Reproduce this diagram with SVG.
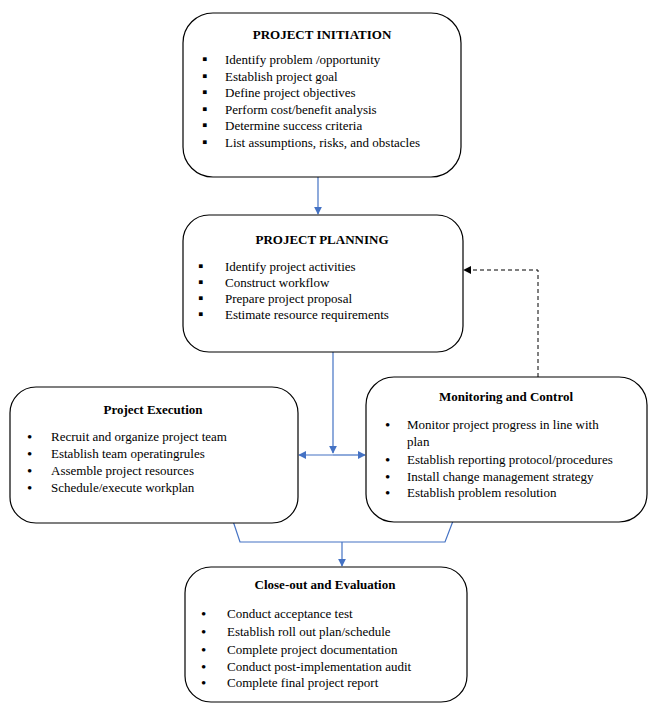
<svg xmlns="http://www.w3.org/2000/svg" width="657" height="712" viewBox="0 0 657 712">
<style>
.box{fill:#fff;stroke:#000;stroke-width:1.2}
.t{font-family:"Liberation Serif","Times New Roman",serif;font-size:13px;fill:#000}
.h{font-weight:bold;text-anchor:middle}
.b{font-family:"Liberation Serif","Times New Roman",serif;font-size:15px;fill:#000}
.c{fill:none;stroke:#4472c4;stroke-width:1.2}
.d{fill:none;stroke:#000;stroke-width:1;stroke-dasharray:4 3}
</style>
<defs>
<marker id="ab" viewBox="0 0 10 10" refX="9" refY="5" markerWidth="8" markerHeight="8" markerUnits="userSpaceOnUse" orient="auto"><path d="M0,0L10,5L0,10z" fill="#4472c4"/></marker>
<marker id="ak" viewBox="0 0 10 10" refX="9" refY="5" markerWidth="8" markerHeight="8" markerUnits="userSpaceOnUse" orient="auto"><path d="M0,0L10,5L0,10z" fill="#000"/></marker>
</defs>
<rect width="657" height="712" fill="#fff"/>
<g id="connectors">
<line class="c" x1="318" y1="177" x2="318" y2="214" marker-end="url(#ab)"/>
<line class="c" x1="333" y1="352" x2="333" y2="453" marker-end="url(#ab)"/>
<line class="c" x1="333" y1="455" x2="299" y2="455" marker-end="url(#ab)"/>
<line class="c" x1="333" y1="455" x2="365" y2="455" marker-end="url(#ab)"/>
<polyline class="c" points="233,521 240,542 445,542 453,521"/>
<line class="c" x1="342" y1="542" x2="342" y2="566" marker-end="url(#ab)"/>
<polyline class="d" points="538,377 538,270 464,270" marker-end="url(#ak)"/>
</g>
<g id="initiation">
<rect class="box" x="183" y="13" width="278" height="164" rx="30"/>
<text class="t h" x="322" y="39">PROJECT INITIATION</text>
<g class="t">
<text class="b" x="202" y="64">▪</text><text x="225" y="64">Identify problem /opportunity</text>
<text class="b" x="202" y="80.5">▪</text><text x="225" y="80.5">Establish project goal</text>
<text class="b" x="202" y="97">▪</text><text x="225" y="97">Define project objectives</text>
<text class="b" x="202" y="113.5">▪</text><text x="225" y="113.5">Perform cost/benefit analysis</text>
<text class="b" x="202" y="130">▪</text><text x="225" y="130">Determine success criteria</text>
<text class="b" x="202" y="146.5">▪</text><text x="225" y="146.5">List assumptions, risks, and obstacles</text>
</g>
</g>
<g id="planning">
<rect class="box" x="183" y="215" width="280" height="137" rx="26"/>
<text class="t h" x="322" y="244">PROJECT PLANNING</text>
<g class="t">
<text class="b" x="198" y="271">▪</text><text x="225" y="271">Identify project activities</text>
<text class="b" x="198" y="287">▪</text><text x="225" y="287">Construct workflow</text>
<text class="b" x="198" y="303">▪</text><text x="225" y="303">Prepare project proposal</text>
<text class="b" x="198" y="319">▪</text><text x="225" y="319">Estimate resource requirements</text>
</g>
</g>
<g id="execution">
<rect class="box" x="10" y="387" width="288" height="136" rx="26"/>
<text class="t h" x="153" y="414">Project Execution</text>
<g class="t">
<text class="b" x="27" y="442">•</text><text x="51" y="441">Recruit and organize project team</text>
<text class="b" x="27" y="459">•</text><text x="51" y="458">Establish team operatingrules</text>
<text class="b" x="27" y="476">•</text><text x="51" y="475">Assemble project resources</text>
<text class="b" x="27" y="493">•</text><text x="51" y="492">Schedule/execute workplan</text>
</g>
</g>
<g id="monitoring">
<rect class="box" x="366" y="377" width="281" height="145" rx="28"/>
<text class="t h" x="506" y="401">Monitoring and Control</text>
<g class="t">
<text class="b" x="385" y="430">•</text><text x="407" y="429">Monitor project progress in line with</text>
<text x="407" y="446">plan</text>
<text class="b" x="385" y="465">•</text><text x="407" y="464">Establish reporting protocol/procedures</text>
<text class="b" x="385" y="482">•</text><text x="407" y="481">Install change management strategy</text>
<text class="b" x="385" y="498">•</text><text x="407" y="497">Establish problem resolution</text>
</g>
</g>
<g id="closeout">
<rect class="box" x="185" y="567" width="282" height="135" rx="26"/>
<text class="t h" x="325" y="589">Close-out and Evaluation</text>
<g class="t">
<text class="b" x="201" y="619">•</text><text x="227" y="618">Conduct acceptance test</text>
<text class="b" x="201" y="637">•</text><text x="227" y="636">Establish roll out plan/schedule</text>
<text class="b" x="201" y="655">•</text><text x="227" y="654">Complete project documentation</text>
<text class="b" x="201" y="672">•</text><text x="227" y="671">Conduct post-implementation audit</text>
<text class="b" x="201" y="688">•</text><text x="227" y="687">Complete final project report</text>
</g>
</g>
</svg>
